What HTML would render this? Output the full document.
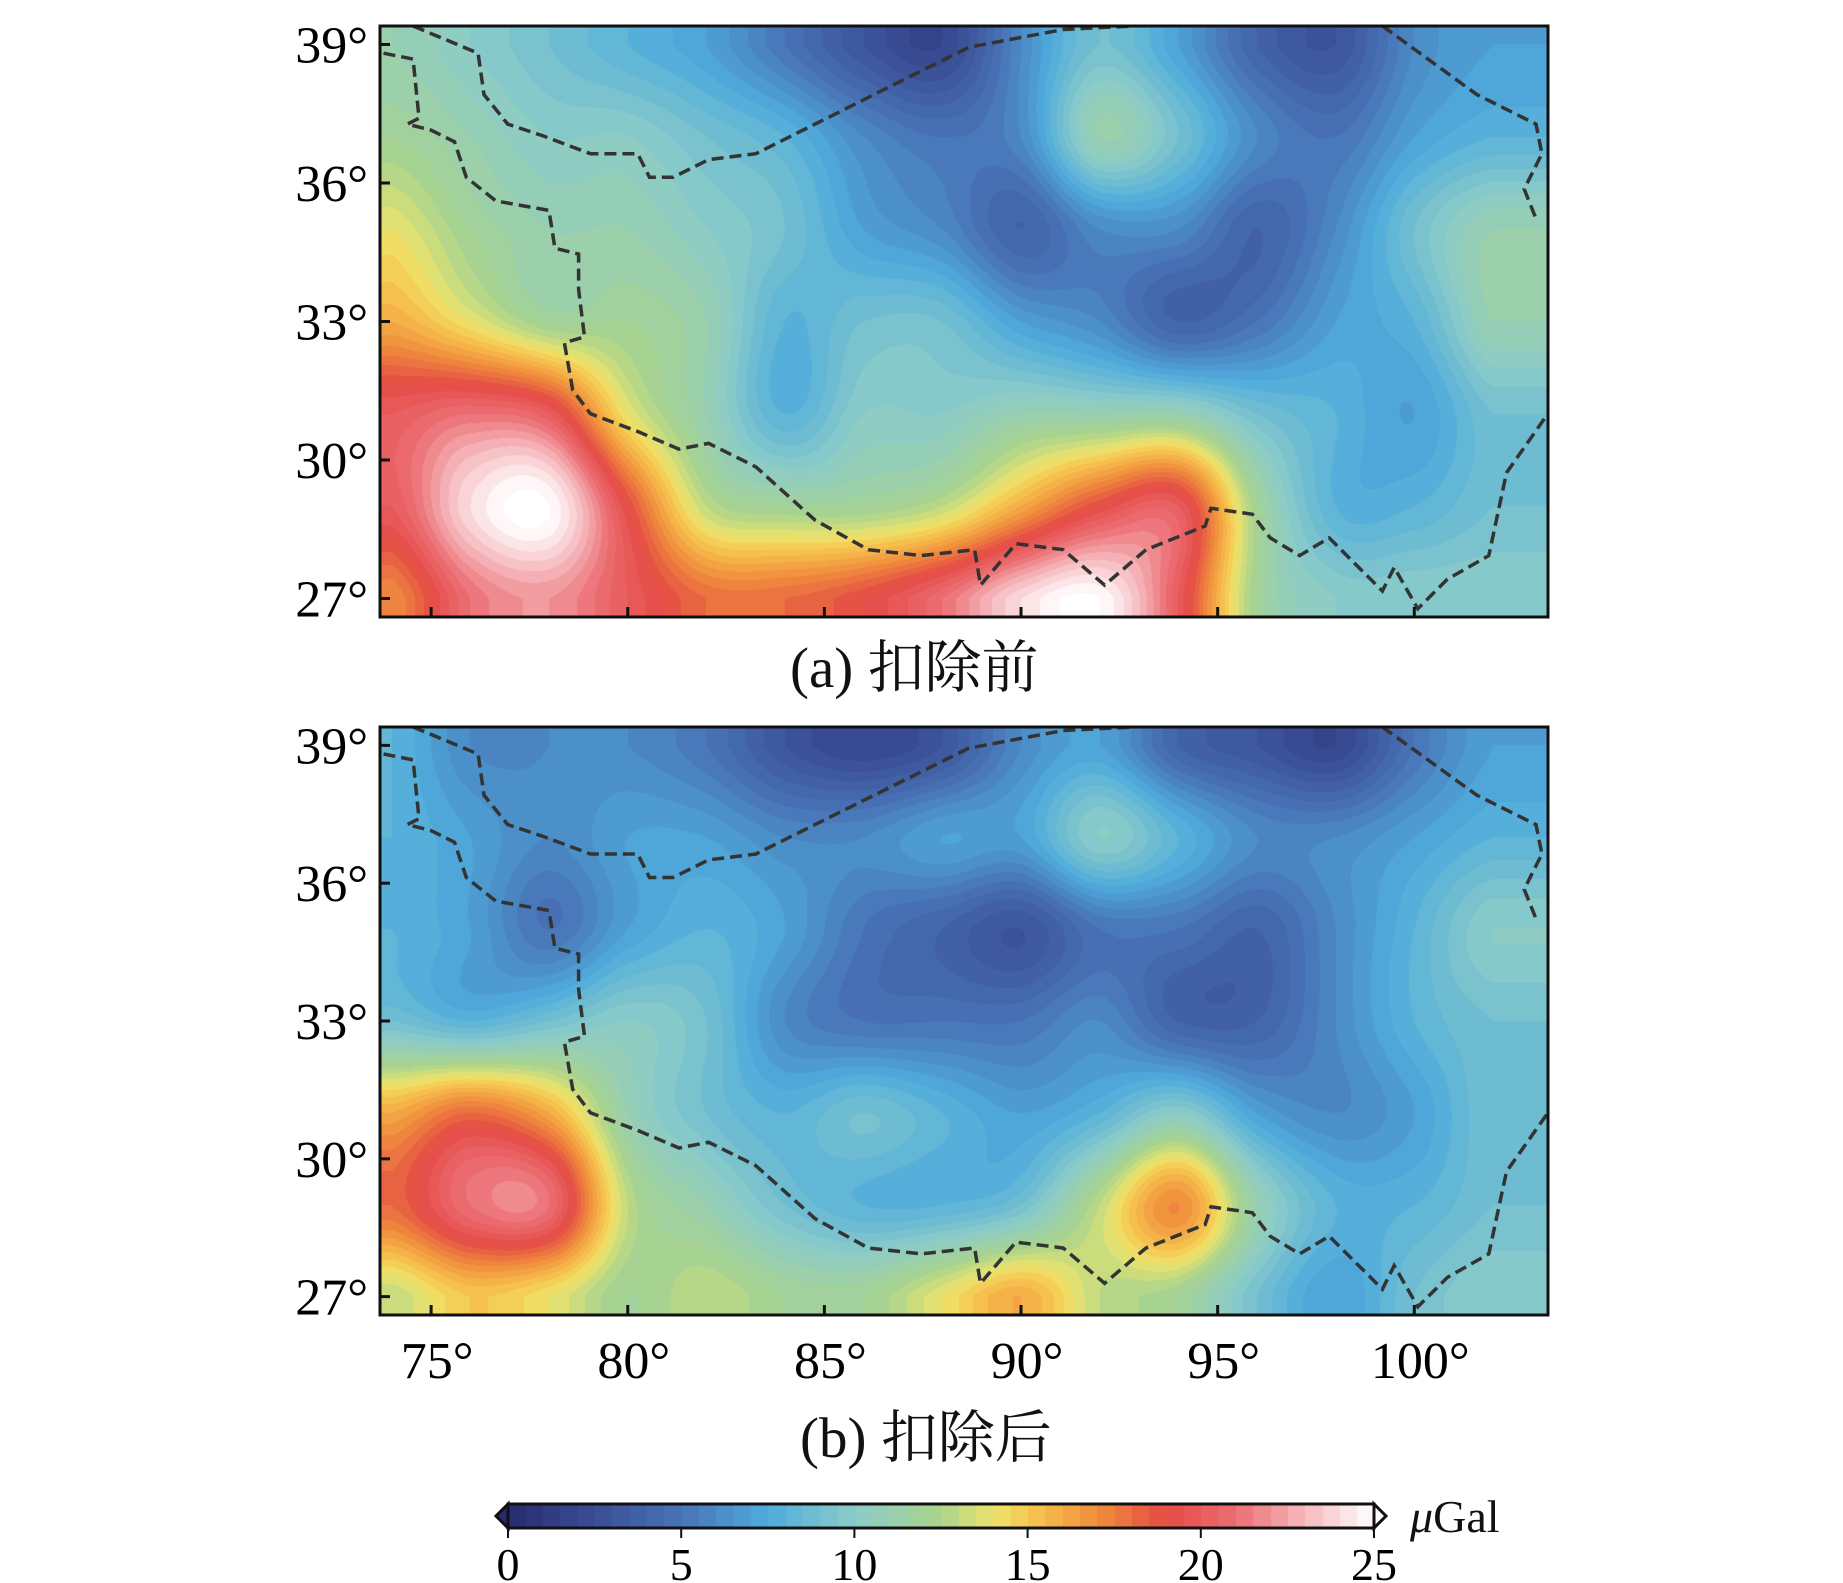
<!DOCTYPE html>
<html><head><meta charset="utf-8">
<style>
body{margin:0;background:#fff;width:1843px;height:1583px;position:relative;overflow:hidden;font-family:"Liberation Serif","Noto Serif CJK SC",serif;color:#111}
.lbl{position:absolute;font-size:52px;line-height:1;white-space:nowrap}
canvas{position:absolute}
svg{position:absolute;left:0;top:0}
</style></head><body>
<canvas id="ca" style="left:380px;top:26px" width="1168" height="591"></canvas>
<canvas id="cb" style="left:380px;top:727px" width="1168" height="588"></canvas>
<canvas id="cbar" style="left:508px;top:1504px" width="866" height="24"></canvas>
<svg id="ov" width="1843" height="1583"></svg>
<div class="lbl" style="left:790px;top:640px;font-size:57px">(a) 扣除前</div>
<div class="lbl" style="left:800px;top:1410px;font-size:57px">(b) 扣除后</div>
<div class="lbl" style="left:1410px;top:1494px;font-size:46px"><i>μ</i>Gal</div>
<script>
const lons=[74,76,78,80,82,84,86,88,90,92,94,96,98,100,102];
const lats=[39,37,35,33,31,29,27];
const valsA=[
[11,10,9,8,7,5,3,2,6,9,7,4,3,6,7],
[12,11,10,10,9,8,6,5,6,11,9,6,5,7,8],
[14,12,11,11,10,9,7,6,4,6,6,4,6,9,11],
[16,14,12,12,11,8,9,9,7,6,4,5,7,8,11],
[20,21,20,14,11,8,10,10,11,11,11,9,8,7,9],
[20,24,25,19,13,12,12,13,16,19,20,12,8,8,9],
[17,21,22,20,18,18,19,21,24,25,20,12,10,10,10]];
const valsB=[
[8,6,6,6,5,3,2,3,6,7,4,3,2,5,7],
[8,7,6,7,7,6,6,7,7,10,8,6,6,7,8],
[8,7,5,7,8,7,5,4,3,5,5,4,6,8,10],
[9,8,9,10,9,6,5,5,5,6,4,4,6,8,9],
[16,18,16,11,9,8,9,8,7,8,10,7,6,7,9],
[18,21,21,13,11,9,8,8,9,13,17,11,8,8,9],
[13,15,14,12,13,12,12,14,16,13,12,9,7,9,10]];
const latTicks=[39,36,33,30,27];
const lonTicks=[75,80,85,90,95,100];
const cbTicks=[0,5,10,15,20,25];
const borderSouth=[[325,45],[350,50],[355,100],[345,105],[365,110],[385,120],[395,150],[420,170],[465,178],[470,210],[490,215],[490,245],[495,285],[478,290],[485,330],[500,350],[540,365],[575,380],[600,375],[640,395],[690,440],[735,465],[780,470],[825,465],[830,495],[860,460],[900,465],[935,495],[970,465],[1020,445],[1025,430],[1060,435],[1075,455],[1100,470],[1125,455],[1150,480],[1170,500],[1180,480],[1200,515],[1225,490],[1260,470],[1275,400],[1310,350]];
const borderNorth=[[350,22],[405,45],[410,80],[430,105],[460,115],[500,130],[540,130],[550,150],[570,150],[600,135],[640,130],[700,100],[760,70],[820,40],[900,25],[960,22]];
const borderEast=[[1170,22],[1250,80],[1300,105],[1305,130],[1290,160],[1300,185]];
const toLL=p=>[73.7+(p[0]-322)/33.27,39.4-(p[1]-22)/39.06];

const LON0=73.7,LON1=103.4,LAT0=26.6,LAT1=39.4;
const stops=[[0,[40,42,110]],[2.5,[58,78,150]],[5,[72,115,182]],[7.5,[80,172,220]],[10,[140,204,200]],[12.5,[170,212,140]],[14,[236,228,110]],[15,[247,200,80]],[17,[240,140,60]],[19,[228,75,70]],[21,[236,110,115]],[23,[245,185,190]],[25,[255,255,255]]];
function cmap(v){v=Math.max(0,Math.min(25,v));for(let i=1;i<stops.length;i++){if(v<=stops[i][0]){const a=stops[i-1],b=stops[i],t=(v-a[0])/(b[0]-a[0]);return a[1].map((c,k)=>c+(b[1][k]-c)*t);}}return stops[stops.length-1][1];}
function cr(p0,p1,p2,p3,t){return 0.5*((2*p1)+(-p0+p2)*t+(2*p0-5*p1+4*p2-p3)*t*t+(-p0+3*p1-3*p2+p3)*t*t*t);}
function sample(g,lon,lat){
  const fx=(lon-lons[0])/2, fy=(lats[0]-lat)/2;
  const nx=lons.length,ny=lats.length;
  const cx=Math.max(0,Math.min(nx-1.0001,fx)),cy=Math.max(0,Math.min(ny-1.0001,fy));
  const ix=Math.floor(cx),iy=Math.floor(cy),tx=cx-ix,ty=cy-iy;
  const G=(i,j)=>g[Math.max(0,Math.min(ny-1,j))][Math.max(0,Math.min(nx-1,i))];
  const r=[];for(let j=-1;j<3;j++)r.push(cr(G(ix-1,iy+j),G(ix,iy+j),G(ix+1,iy+j),G(ix+2,iy+j),tx));
  return cr(r[0],r[1],r[2],r[3],ty);
}
function draw(id,g){
  const c=document.getElementById(id),ctx=c.getContext('2d'),W=c.width,H=c.height;
  const im=ctx.createImageData(W,H);
  for(let y=0;y<H;y++)for(let x=0;x<W;x++){
    const lon=LON0+(x+0.5)/W*(LON1-LON0),lat=LAT1-(y+0.5)/H*(LAT1-LAT0);
    let v=sample(g,lon,lat);v=Math.floor(v*2)/2+0.25;
    const col=cmap(v),k=(y*W+x)*4;
    im.data[k]=col[0];im.data[k+1]=col[1];im.data[k+2]=col[2];im.data[k+3]=255;
  }
  ctx.putImageData(im,0,0);
}
draw('ca',valsA);draw('cb',valsB);
(function(){const c=document.getElementById('cbar'),ctx=c.getContext('2d');
for(let x=0;x<c.width;x++){let v=Math.floor(x/c.width*50)/2+0.25;const col=cmap(v);ctx.fillStyle=`rgb(${col.map(Math.round)})`;ctx.fillRect(x,0,1,24);}})();

const NS='http://www.w3.org/2000/svg',ov=document.getElementById('ov');
function mk(t,a){const e=document.createElementNS(NS,t);for(const k in a)e.setAttribute(k,a[k]);ov.appendChild(e);return e;}
const panels=[{top:26,h:591,n:'a'},{top:727,h:588,n:'b'}];
const L=380,W=1168;
panels.forEach(p=>{
  const X=lon=>L+(lon-LON0)/(LON1-LON0)*W, Y=lat=>p.top+(LAT1-lat)/(LAT1-LAT0)*p.h;
  [borderSouth,borderNorth,borderEast].forEach((b,i)=>{
    const pts=b.map(toLL).map(q=>X(q[0]).toFixed(1)+','+Math.min(p.top+p.h,Y(q[1])).toFixed(1)).join(' ');
    const e=mk('polyline',{points:pts,fill:'none',stroke:'#333','stroke-width':3.5,'stroke-dasharray':'12 6'});
    
    
  });
  const fr=mk('rect',{x:L,y:p.top,width:W,height:p.h,fill:'none',stroke:'#111','stroke-width':3});
  
  
  latTicks.forEach(t=>{
    mk('line',{x1:L,x2:L+10,y1:Y(t),y2:Y(t),stroke:'#111','stroke-width':3});
    const tx=mk('text',{x:L-12,y:Y(t)+18,'text-anchor':'end','font-size':52,'font-family':'Liberation Serif'});
    tx.textContent=t+'°';
    
    
  });
  lonTicks.forEach(t=>{
    mk('line',{x1:X(t),x2:X(t),y1:p.top+p.h,y2:p.top+p.h-10,stroke:'#111','stroke-width':3});
    if(p.n==='b'){const tx=mk('text',{x:X(t)+6,y:1378,'text-anchor':'middle','font-size':52,'font-family':'Liberation Serif'});
      tx.textContent=t+'°';
      
      }
  });
});
mk('rect',{x:508,y:1504,width:866,height:24,fill:'none',stroke:'#111','stroke-width':3});
mk('polygon',{points:'508,1504 496,1516 508,1528',fill:'rgb(40,42,110)',stroke:'#111','stroke-width':3});
mk('polygon',{points:'1374,1504 1386,1516 1374,1528',fill:'#fff',stroke:'#111','stroke-width':3});
cbTicks.forEach(t=>{
  const x=508+t/25*866;
  mk('line',{x1:x,x2:x,y1:1528,y2:1538,stroke:'#111','stroke-width':2});
  const tx=mk('text',{x:x,y:1580,'text-anchor':'middle','font-size':46,'font-family':'Liberation Serif'});
  tx.textContent=t;
  
  
});
</script>
</body></html>
